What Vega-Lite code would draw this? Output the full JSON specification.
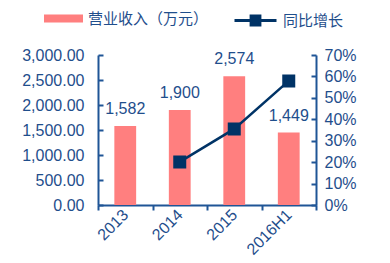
{
  "$schema": "https://vega.github.io/schema/vega-lite/v6.json",
  "width": 218,
  "height": 150,
  "autosize": {"type": "none"},
  "padding": {"left": 98, "top": 55, "right": 74, "bottom": 58},
  "background": "white",
  "data": {
    "values": [
      {"year": "2013", "revenue": 1582, "growth": null, "label": "1,582"},
      {"year": "2014", "revenue": 1900, "growth": 0.201, "label": "1,900"},
      {"year": "2015", "revenue": 2574, "growth": 0.355, "label": "2,574"},
      {"year": "2016H1", "revenue": 1449, "growth": 0.579, "label": "1,449"}
    ]
  },
  "encoding": {
    "x": {
      "field": "year",
      "type": "nominal",
      "sort": null,
      "scale": {"paddingInner": 0, "paddingOuter": 0},
      "axis": {
        "title": null,
        "tickBand": "extent",
        "labelAngle": -45,
        "labelAlign": "right",
        "labelBaseline": "middle",
        "labelFont": "Liberation Sans",
        "labelFontSize": 16,
        "labelColor": "#1F4E8C",
        "domainColor": "#1F5596",
        "domainWidth": 2,
        "tickColor": "#1F5596",
        "tickWidth": 2,
        "tickSize": 5,
        "labelPadding": 2,
        "labelOverlap": false
      }
    }
  },
  "layer": [
    {
      "encoding": {
        "y": {
          "field": "revenue",
          "type": "quantitative",
          "scale": {"domain": [0, 3000]},
          "axis": {
            "title": null,
            "orient": "left",
            "values": [0, 500, 1000, 1500, 2000, 2500, 3000],
            "format": ",.2f",
            "grid": false,
            "labelOverlap": false,
            "labelFlush": false,
            "labelFont": "Liberation Sans",
            "labelFontSize": 16,
            "labelColor": "#1F4E8C",
            "domainColor": "#1F5596",
            "domainWidth": 2,
            "tickColor": "#1F5596",
            "tickWidth": 2,
            "tickSize": -5,
            "labelPadding": 19
          }
        }
      },
      "layer": [
        {
          "mark": {"type": "bar", "width": {"band": 0.4}},
          "encoding": {
            "fill": {
              "datum": "营业收入（万元）",
              "type": "nominal",
              "scale": {"range": ["#FF7F7F"]},
              "legend": {
                "orient": "none",
                "legendX": -54,
                "legendY": -56,
                "title": null,
                "padding": 0,
                "symbolType": "M-1,-0.2H1V0.2H-1Z",
                "symbolSize": 1521,
                "symbolStrokeWidth": 0,
                "labelOffset": 5,
                "labelFont": "Noto Sans CJK SC",
                "labelFontSize": 15,
                "labelColor": "#1F4E8C"
              }
            }
          }
        },
        {
          "mark": {"type": "text", "dy": -17, "baseline": "middle", "font": "Liberation Sans", "fontSize": 16, "color": "#1F4E8C"},
          "encoding": {
            "text": {"field": "label"}
          }
        }
      ]
    },
    {
      "mark": {
        "type": "line",
        "strokeWidth": 2.5,
        "point": {"shape": "square", "size": 121, "filled": true, "color": "#003366", "opacity": 1}
      },
      "encoding": {
        "y": {
          "field": "growth",
          "type": "quantitative",
          "scale": {"domain": [0, 0.7]},
          "axis": {
            "title": null,
            "orient": "right",
            "values": [0, 0.1, 0.2, 0.3, 0.4, 0.5, 0.6, 0.7],
            "format": ".0%",
            "grid": false,
            "labelOverlap": false,
            "labelFlush": false,
            "labelFont": "Liberation Sans",
            "labelFontSize": 16,
            "labelColor": "#1F4E8C",
            "domainColor": "#1F5596",
            "domainWidth": 2,
            "tickColor": "#1F5596",
            "tickWidth": 2,
            "tickSize": -5,
            "labelPadding": 13
          }
        },
        "stroke": {
          "datum": "同比增长",
          "type": "nominal",
          "scale": {"range": ["#003366"]},
          "legend": {
            "orient": "none",
            "legendX": 135,
            "legendY": -57,
            "title": null,
            "padding": 0,
            "symbolType": "M-1,0H1M-0.21,-0.21H0.21V0.21H-0.21Z",
            "symbolSize": 1764,
            "symbolStrokeWidth": 3,
            "symbolFillColor": "#003366",
            "labelOffset": 5,
            "labelFont": "Noto Sans CJK SC",
            "labelFontSize": 15,
            "labelColor": "#1F4E8C"
          }
        }
      }
    }
  ],
  "resolve": {"scale": {"y": "independent"}},
  "config": {"view": {"stroke": null}}
}
